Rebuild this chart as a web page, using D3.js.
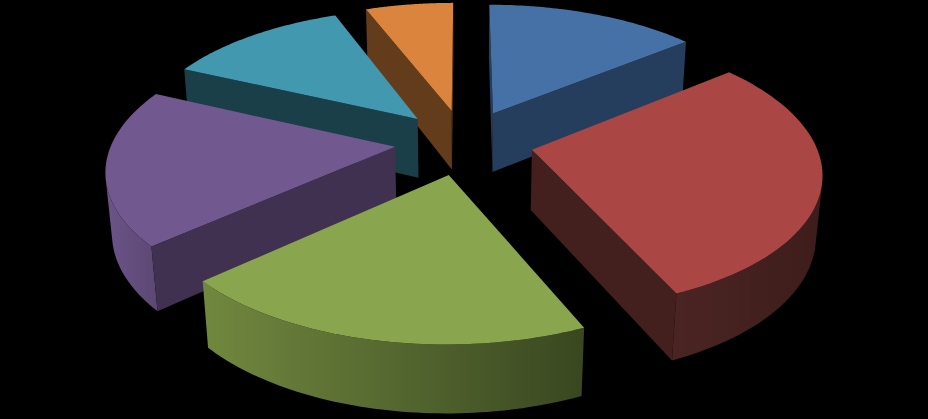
<!DOCTYPE html>
<html>
<head>
<meta charset="utf-8">
<script src="https://cdn.jsdelivr.net/npm/d3@7"></script>
<style>
  html, body { margin: 0; padding: 0; background: #000; overflow: hidden; }
  svg { display: block; }
</style>
</head>
<body>
<svg id="chart" width="928" height="419"></svg>
<script>
// Share of each slice, clockwise from 12 o'clock
const categories = ["Blue", "Red", "Green", "Purple", "Teal", "Orange"];
const values = [14.2, 29.2, 20, 18.45, 12.25, 5.9];

const topColors = ["#4571a7", "#aa4643", "#89a54e", "#71588f", "#4198af", "#db843d"];
const cutColors = ["#263e5d", "#43201e", "#4d5d2c", "#403150", "#1b3f49", "#633c1c"];
// outer wall shading, left to right
const wallStops = [
  ["#2e4a6e", "#2e4a6e"],
  ["#4a2422", "#3d1d1b"],
  ["#71883f", "#394720"],
  ["#6b5488", "#5d4874"],
  ["#1b3f49", "#1b3f49"],
  ["#633c1c", "#633c1c"],
];

const width = 928, height = 419;
const svg = d3.select("#chart");
const defs = svg.append("defs");

// Perspective set up for the tilted disc
const centerX = 464, centerY = 142;
const radiusX = 283, radiusY = 133;
const explode = 0.245;
const depthFactor = 0.15, dropFactor = 0.018, wallHeight = 61;

function project(u, v, z) {
  const s = 1 / (1 + depthFactor * v + dropFactor * z);
  return [centerX + radiusX * u * s, centerY - radiusY * v * s + wallHeight * z * s];
}

const pie = d3.pie().sort(null).value((d) => d.value);
const slices = pie(categories.map((name, i) => ({ name, value: values[i], index: i })));

const line = d3.line();

function rimPoint(d, angle) {
  const mid = (d.startAngle + d.endAngle) / 2;
  return [
    explode * Math.sin(mid) + Math.sin(angle),
    explode * Math.cos(mid) + Math.cos(angle),
  ];
}

function apexPoint(d) {
  const mid = (d.startAngle + d.endAngle) / 2;
  return [explode * Math.sin(mid), explode * Math.cos(mid)];
}

// signed screen area, >0 means the face looks at the viewer
function facing(poly) {
  return d3.polygonArea(poly) > 0;
}

// far slices first so the near ones paint over them
const order = slices.slice().sort((a, b) => apexPoint(b)[1] - apexPoint(a)[1]);

order.forEach((d) => {
  const i = d.data.index;
  const g = svg.append("g").attr("class", "slice").attr("data-name", d.data.name);
  const angles = d3.range(0, 61).map((k) => d.startAngle + (d.endAngle - d.startAngle) * k / 60);
  const apex = apexPoint(d);
  const rim = angles.map((a) => rimPoint(d, a));

  // outer wall, only the part turned to the viewer
  const gradId = "wall" + i;
  const xs = rim.map((p) => project(p[0], p[1], 0)[0]);
  const grad = defs.append("linearGradient")
    .attr("id", gradId)
    .attr("gradientUnits", "userSpaceOnUse")
    .attr("x1", d3.min(xs)).attr("x2", d3.max(xs))
    .attr("y1", 0).attr("y2", 0);
  grad.append("stop").attr("offset", 0).attr("stop-color", wallStops[i][0]);
  grad.append("stop").attr("offset", 1).attr("stop-color", wallStops[i][1]);

  const front = rim.filter((p, k) => {
    if (k === rim.length - 1) return false;
    const q = rim[k + 1];
    return facing([project(p[0], p[1], 0), project(q[0], q[1], 0), project(q[0], q[1], 1), project(p[0], p[1], 1)]);
  });
  if (front.length > 0) {
    const firstIdx = rim.indexOf(front[0]);
    const run = rim.slice(firstIdx, firstIdx + front.length + 1);
    const upper = run.map((p) => project(p[0], p[1], 0));
    const lower = run.map((p) => project(p[0], p[1], 1)).reverse();
    g.append("path")
      .attr("d", line(upper.concat(lower)) + "Z")
      .attr("fill", "url(#" + gradId + ")");
  }

  // the two straight cut faces
  [rim[0], rim[rim.length - 1]].forEach((p) => {
    const quad = [project(apex[0], apex[1], 0), project(p[0], p[1], 0), project(p[0], p[1], 1), project(apex[0], apex[1], 1)];
    const isEnd = p === rim[rim.length - 1];
    const poly = isEnd ? quad.slice().reverse() : quad;
    if (facing(poly)) {
      g.append("path").attr("d", line(quad) + "Z").attr("fill", cutColors[i]);
    }
  });

  // top face
  const topPts = [project(apex[0], apex[1], 0)].concat(rim.map((p) => project(p[0], p[1], 0)));
  g.append("path").attr("d", line(topPts) + "Z").attr("fill", topColors[i]);
});
</script>
</body>
</html>
